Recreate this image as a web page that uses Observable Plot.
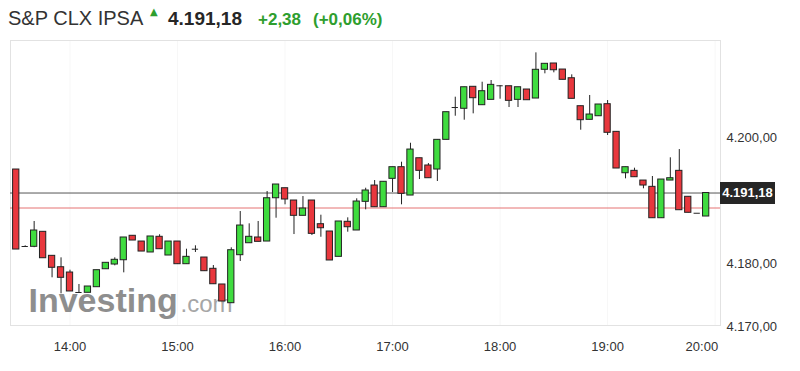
<!DOCTYPE html>
<html>
<head>
<meta charset="utf-8">
<script src="https://cdn.jsdelivr.net/npm/d3@7"></script>
<script src="https://cdn.jsdelivr.net/npm/@observablehq/plot@0.6"></script>
<style>
  html, body { margin: 0; padding: 0; background: #fff; }
  body { width: 800px; height: 371px; position: relative; overflow: hidden; font-family: "Liberation Sans", Arial, sans-serif; }
  #title { position: relative; height: 39px; }
  #title span { position: absolute; line-height: 1; white-space: nowrap; }
  #chart { position: relative; }
  #pricebox { position: absolute; background: #262626; color: #fff; font-weight: bold; font-size: 13px; text-align: center; }
</style>
</head>
<body>
<div id="title"></div>
<div id="chart"></div>
<script>
// ---- data (5-minute candles) ----
const instrument = "S&P CLX IPSA";
const lastPrice = 4191.18;
const prevClose = 4188.80;
const lastLabel = "4.191,18";
const changeLabel = "+2,38";
const pctLabel = "(+0,06%)";

const times = [
  "13:30","13:35","13:40","13:45","13:50","13:55",
  "14:00","14:05","14:10","14:15","14:20","14:25","14:30","14:35","14:40","14:45","14:50","14:55",
  "15:00","15:05","15:10","15:15","15:20","15:25","15:30","15:35","15:40","15:45","15:50","15:55",
  "16:00","16:05","16:10","16:15","16:20","16:25","16:30","16:35","16:40","16:45","16:50","16:55",
  "17:00","17:05","17:10","17:15","17:20","17:25","17:30","17:35","17:40","17:45","17:50","17:55",
  "18:00","18:05","18:10","18:15","18:20","18:25","18:30","18:35","18:40","18:45","18:50","18:55",
  "19:00","19:05","19:10","19:15","19:20","19:25","19:30","19:35","19:40","19:45","19:50","19:55"
];
const open = [
  4194.91,4182.69,4182.64,4185.02,4181.21,4179.40,4178.56,4175.39,4175.34,4176.23,
  4179.08,4179.83,4180.51,4184.39,4183.48,4181.74,4184.23,4181.26,4183.48,4179.88,
  4182.26,4180.94,4179.15,4176.66,4173.69,4181.31,4183.21,4184.12,4183.48,4190.35,
  4191.94,4189.99,4187.56,4189.99,4186.23,4185.07,4181.05,4186.61,4185.23,4189.78,
  4192.37,4188.93,4193.43,4195.28,4190.78,4196.70,4195.55,4194.91,4199.62,4204.75,
  4204.55,4208.04,4205.12,4205.97,4208.20,4208.13,4205.97,4207.61,4206.18,4210.74,
  4211.74,4210.78,4209.40,4204.96,4202.80,4203.37,4205.28,4200.89,4194.32,4194.70,
  4193.16,4192.16,4187.18,4193.16,4194.70,4190.58,4187.97,4187.45
];
const high = [
  4194.91,4182.80,4186.66,4185.02,4181.21,4180.89,4178.93,4176.66,4176.34,4178.93,
  4180.10,4180.89,4184.12,4184.39,4183.48,4184.28,4184.55,4183.48,4183.48,4182.26,
  4182.80,4180.94,4179.67,4176.66,4182.48,4188.24,4186.29,4186.66,4191.42,4192.53,
  4191.94,4189.99,4190.62,4189.99,4187.66,4185.07,4186.66,4187.24,4190.26,4191.94,
  4193.16,4192.96,4195.28,4196.07,4199.08,4196.70,4195.86,4199.62,4204.01,4206.39,
  4207.97,4208.04,4208.77,4209.04,4208.20,4208.13,4207.97,4207.61,4213.43,4211.69,
  4211.74,4210.78,4209.94,4204.96,4206.66,4205.23,4205.86,4200.89,4195.28,4195.12,
  4193.16,4193.80,4193.32,4196.77,4198.08,4190.58,4187.97,4191.18
];
const low = [
  4182.21,4182.60,4182.50,4180.83,4177.72,4175.18,4175.55,4175.30,4175.34,4176.23,
  4179.08,4179.62,4178.51,4183.64,4181.89,4181.74,4182.26,4181.26,4179.88,4179.88,
  4181.74,4178.77,4176.70,4173.96,4173.69,4180.31,4183.21,4183.43,4183.48,4187.18,
  4189.31,4184.59,4187.56,4184.43,4184.16,4180.47,4181.05,4184.96,4185.23,4188.51,
  4188.93,4188.93,4191.26,4189.31,4190.78,4193.32,4193.53,4193.01,4199.62,4203.37,
  4202.74,4203.75,4205.12,4205.97,4206.07,4204.75,4204.75,4205.91,4206.18,4210.10,
  4210.26,4209.15,4206.13,4201.15,4202.80,4203.37,4200.31,4195.07,4193.43,4193.69,
  4191.85,4187.18,4187.18,4193.16,4188.45,4188.04,4187.97,4187.45
];
const close = [
  4182.21,4182.69,4185.23,4180.83,4179.31,4177.72,4175.55,4175.39,4176.34,4178.93,
  4180.10,4180.58,4184.12,4183.64,4181.89,4184.28,4182.26,4183.48,4179.88,4181.05,
  4182.26,4178.77,4176.70,4173.96,4182.10,4186.02,4184.23,4183.43,4190.35,4192.53,
  4190.15,4187.56,4188.72,4184.70,4185.59,4180.47,4186.66,4185.75,4189.83,4191.58,
  4188.93,4192.96,4195.28,4191.05,4198.08,4194.70,4193.53,4199.62,4204.01,4204.75,
  4207.97,4206.23,4207.34,4208.35,4208.20,4205.81,4207.97,4205.91,4210.74,4211.69,
  4210.67,4209.15,4206.13,4202.74,4203.64,4205.23,4200.74,4195.07,4195.28,4193.69,
  4192.37,4187.18,4193.32,4193.53,4188.45,4188.04,4187.97,4191.18
];
const yTicks = [4170, 4180, 4200];
const xTickLabels = ["14:00","15:00","16:00","17:00","18:00","19:00","20:00"];

// ---- helpers ----
const toMin = s => { const [h, m] = s.split(":").map(Number); return h * 60 + m; };
const minLabel = m => String(Math.floor(m / 60)).padStart(2, "0") + ":" + String(m % 60).padStart(2, "0");
const esFmt = v => d3.format(",.2f")(v).replace(/,/g, "#").replace(/\./g, ",").replace(/#/g, ".");

const candles = times.map((t, i) => ({t: toMin(t), o: open[i], h: high[i], l: low[i], c: close[i]}));
const xTicks = xTickLabels.map(toMin);
const halfW = 1.75; // body half-width in minutes

const up = candles.filter(d => d.c > d.o);
const down = candles.filter(d => d.c < d.o);
const doji = candles.filter(d => d.c === d.o);

// ---- title ----
const title = document.getElementById("title");
title.innerHTML = `
  <span style="left:8px;top:8px;font-size:20px;color:#333">${instrument.replace("&","&amp;")}</span>
  <span style="left:150px;top:7px;font-size:10px;color:#2e9e2e;font-family:'DejaVu Sans'">▲</span>
  <span style="left:168px;top:9px;font-size:19px;font-weight:bold;color:#262626">${lastLabel}</span>
  <span style="left:258px;top:11px;font-size:17px;font-weight:bold;color:#2e9e2e">${changeLabel}</span>
  <span style="left:313px;top:11px;font-size:17px;font-weight:bold;color:#2e9e2e">${pctLabel}</span>`;

// ---- chart ----
const chart = Plot.plot({
  width: 800,
  height: 332,
  marginTop: 1,
  marginBottom: 46,
  marginLeft: 10,
  marginRight: 80,
  style: {fontFamily: "Liberation Sans, Arial, sans-serif", fontSize: "13px", color: "#333", background: "#fff"},
  x: {domain: [806.8, 1203], axis: null},
  y: {domain: [4170.15, 4215.39], axis: null},
  marks: [
    Plot.gridX(xTicks, {stroke: "#000", strokeOpacity: 0.035}),
    Plot.text(["Investing"], {text: d => d, frameAnchor: "bottom-left", textAnchor: "start", lineAnchor: "middle", dx: 18, dy: -24, fontSize: 34, fontWeight: "bold", fill: "#8e8e8e"}),
    Plot.text([".com"], {text: d => d, frameAnchor: "bottom-left", textAnchor: "start", lineAnchor: "middle", dx: 170, dy: -21, fontSize: 24, fill: "#a6a6a6"}),
    Plot.frame({stroke: "#e2e2e2"}),
    Plot.ruleY([prevClose], {stroke: "#e57373", strokeWidth: 1}),
    Plot.ruleY([lastPrice], {stroke: "#555", strokeWidth: 1}),
    Plot.ruleX(candles, {x: "t", y1: "l", y2: "h", stroke: "#222", strokeWidth: 1}),
    Plot.rect(up, {x1: d => d.t - halfW, x2: d => d.t + halfW, y1: "o", y2: "c", fill: "#3fdc3f", stroke: "#222", strokeWidth: 1}),
    Plot.rect(down, {x1: d => d.t - halfW, x2: d => d.t + halfW, y1: "o", y2: "c", fill: "#e8373d", stroke: "#222", strokeWidth: 1}),
    Plot.ruleY(doji, {y: "o", x1: d => d.t - halfW, x2: d => d.t + halfW, stroke: "#222", strokeWidth: 1}),
    Plot.axisY({ticks: yTicks, anchor: "right", tickSize: 0, tickPadding: 6, tickFormat: esFmt, label: null, fill: "#333"}),
    Plot.axisX({ticks: xTicks.slice(0, 6), anchor: "bottom", tickSize: 0, tickPadding: 16, tickFormat: minLabel, label: null, fill: "#333"}),
    Plot.axisX({ticks: xTicks.slice(6), anchor: "bottom", tickSize: 0, tickPadding: 16, tickFormat: minLabel, label: null, textAnchor: "end", dx: 3, fill: "#333"})
  ]
});
const holder = document.getElementById("chart");
holder.appendChild(chart);

// current price tag on the right axis
const yPx = chart.scale("y").apply(lastPrice);
const box = document.createElement("div");
box.id = "pricebox";
box.textContent = lastLabel;
box.style.left = "720px";
box.style.width = "55px";
box.style.top = (yPx - 11) + "px";
box.style.height = "22px";
box.style.lineHeight = "22px";
holder.appendChild(box);
</script>
</body>
</html>
